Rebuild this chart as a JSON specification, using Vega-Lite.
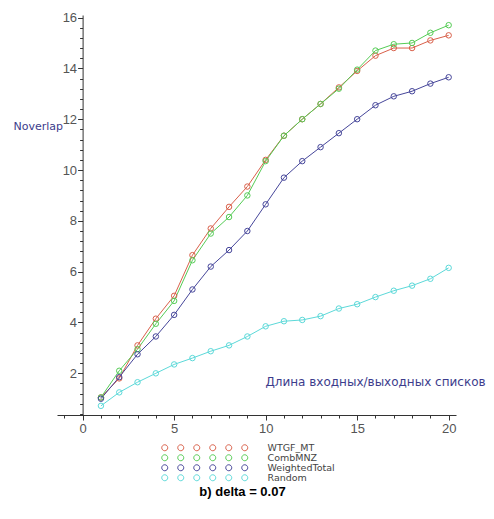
{
  "$schema": "https://vega.github.io/schema/vega-lite/v6.json",
  "width": 399,
  "height": 400,
  "autosize": {"type": "none"},
  "padding": {"left": 57, "top": 15, "right": 38, "bottom": 104},
  "background": "white",
  "config": {"view": {"stroke": null}, "font": "Liberation Sans"},
  "title": {"text": "b) delta = 0.07", "orient": "bottom", "anchor": "middle", "fontSize": 13, "fontWeight": "bold", "color": "#000000", "offset": 3, "dx": -14},
  "data": {"values": [
    {"n":1,"v":1.05,"m":"WTGF_MT"},{"n":2,"v":1.8,"m":"WTGF_MT"},{"n":3,"v":3.1,"m":"WTGF_MT"},{"n":4,"v":4.15,"m":"WTGF_MT"},{"n":5,"v":5.05,"m":"WTGF_MT"},
    {"n":6,"v":6.65,"m":"WTGF_MT"},{"n":7,"v":7.7,"m":"WTGF_MT"},{"n":8,"v":8.55,"m":"WTGF_MT"},{"n":9,"v":9.35,"m":"WTGF_MT"},{"n":10,"v":10.4,"m":"WTGF_MT"},
    {"n":11,"v":11.35,"m":"WTGF_MT"},{"n":12,"v":12.0,"m":"WTGF_MT"},{"n":13,"v":12.6,"m":"WTGF_MT"},{"n":14,"v":13.25,"m":"WTGF_MT"},{"n":15,"v":13.9,"m":"WTGF_MT"},
    {"n":16,"v":14.5,"m":"WTGF_MT"},{"n":17,"v":14.8,"m":"WTGF_MT"},{"n":18,"v":14.8,"m":"WTGF_MT"},{"n":19,"v":15.1,"m":"WTGF_MT"},{"n":20,"v":15.3,"m":"WTGF_MT"},
    {"n":1,"v":1.05,"m":"CombMNZ"},{"n":2,"v":2.1,"m":"CombMNZ"},{"n":3,"v":2.95,"m":"CombMNZ"},{"n":4,"v":3.95,"m":"CombMNZ"},{"n":5,"v":4.85,"m":"CombMNZ"},
    {"n":6,"v":6.45,"m":"CombMNZ"},{"n":7,"v":7.5,"m":"CombMNZ"},{"n":8,"v":8.15,"m":"CombMNZ"},{"n":9,"v":9.0,"m":"CombMNZ"},{"n":10,"v":10.35,"m":"CombMNZ"},
    {"n":11,"v":11.35,"m":"CombMNZ"},{"n":12,"v":12.0,"m":"CombMNZ"},{"n":13,"v":12.6,"m":"CombMNZ"},{"n":14,"v":13.2,"m":"CombMNZ"},{"n":15,"v":13.95,"m":"CombMNZ"},
    {"n":16,"v":14.7,"m":"CombMNZ"},{"n":17,"v":14.95,"m":"CombMNZ"},{"n":18,"v":15.0,"m":"CombMNZ"},{"n":19,"v":15.4,"m":"CombMNZ"},{"n":20,"v":15.7,"m":"CombMNZ"},
    {"n":1,"v":1.0,"m":"WeightedTotal"},{"n":2,"v":1.85,"m":"WeightedTotal"},{"n":3,"v":2.75,"m":"WeightedTotal"},{"n":4,"v":3.45,"m":"WeightedTotal"},{"n":5,"v":4.3,"m":"WeightedTotal"},
    {"n":6,"v":5.3,"m":"WeightedTotal"},{"n":7,"v":6.2,"m":"WeightedTotal"},{"n":8,"v":6.85,"m":"WeightedTotal"},{"n":9,"v":7.6,"m":"WeightedTotal"},{"n":10,"v":8.65,"m":"WeightedTotal"},
    {"n":11,"v":9.7,"m":"WeightedTotal"},{"n":12,"v":10.35,"m":"WeightedTotal"},{"n":13,"v":10.9,"m":"WeightedTotal"},{"n":14,"v":11.45,"m":"WeightedTotal"},{"n":15,"v":12.0,"m":"WeightedTotal"},
    {"n":16,"v":12.55,"m":"WeightedTotal"},{"n":17,"v":12.9,"m":"WeightedTotal"},{"n":18,"v":13.1,"m":"WeightedTotal"},{"n":19,"v":13.4,"m":"WeightedTotal"},{"n":20,"v":13.65,"m":"WeightedTotal"},
    {"n":1,"v":0.72,"m":"Random"},{"n":2,"v":1.25,"m":"Random"},{"n":3,"v":1.65,"m":"Random"},{"n":4,"v":2.0,"m":"Random"},{"n":5,"v":2.35,"m":"Random"},
    {"n":6,"v":2.6,"m":"Random"},{"n":7,"v":2.87,"m":"Random"},{"n":8,"v":3.1,"m":"Random"},{"n":9,"v":3.45,"m":"Random"},{"n":10,"v":3.85,"m":"Random"},
    {"n":11,"v":4.05,"m":"Random"},{"n":12,"v":4.1,"m":"Random"},{"n":13,"v":4.25,"m":"Random"},{"n":14,"v":4.55,"m":"Random"},{"n":15,"v":4.72,"m":"Random"},
    {"n":16,"v":5.0,"m":"Random"},{"n":17,"v":5.25,"m":"Random"},{"n":18,"v":5.45,"m":"Random"},{"n":19,"v":5.72,"m":"Random"},{"n":20,"v":6.15,"m":"Random"}
  ]},
  "encoding": {
    "x": {
      "field": "n", "type": "quantitative",
      "scale": {"domain": [-1.4, 20.4], "nice": false, "zero": false},
      "axis": {
        "values": [-1,0,1,2,3,4,5,6,7,8,9,10,11,12,13,14,15,16,17,18,19,20],
        "labelExpr": "datum.value % 5 === 0 ? format(datum.value, 'd') : ''",
        "grid": false,
        "domainColor": "#333333",
        "tickColor": "#333333",
        "tickSize": {"condition": {"test": "datum.value % 5 === 0", "value": 5}, "value": 3},
        "labelColor": "#555555",
        "labelFontSize": 13,
        "labelPadding": 2,
        "labelFlush": false,
        "labelOverlap": false,
        "title": "Длина входных/выходных списков",
        "titleColor": "#3c3c8c",
        "titleFont": "DejaVu Sans",
        "titleFontSize": 12,
        "titleFontWeight": "normal",
        "titleX": 318,
        "titleY": -34,
        "titleAlign": "center",
        "titleBaseline": "middle"
      }
    },
    "y": {
      "field": "v", "type": "quantitative",
      "scale": {"domain": [0.36, 16.1], "nice": false, "zero": false},
      "axis": {
        "values": [0.4,0.8,1.2,1.6,2,2.4,2.8,3.2,3.6,4,4.4,4.8,5.2,5.6,6,6.4,6.8,7.2,7.6,8,8.4,8.8,9.2,9.6,10,10.4,10.8,11.2,11.6,12,12.4,12.8,13.2,13.6,14,14.4,14.8,15.2,15.6,16],
        "labelExpr": "datum.value % 2 === 0 ? format(datum.value, 'd') : ''",
        "offset": -25.6,
        "grid": false,
        "domainColor": "#333333",
        "tickColor": "#333333",
        "tickSize": {"condition": {"test": "datum.value % 2 === 0", "value": 5}, "value": 3},
        "labelColor": "#555555",
        "labelFontSize": 13,
        "labelPadding": 1,
        "labelOverlap": false,
        "labelFlush": false,
        "title": "Noverlap",
        "titleColor": "#3c3c8c",
        "titleFont": "DejaVu Sans",
        "titleFontSize": 11,
        "titleFontWeight": "normal",
        "titleAngle": 0,
        "titleAlign": "right",
        "titleBaseline": "middle",
        "titleX": -20,
        "titleY": 111
      }
    },
    "color": {
      "field": "m", "type": "nominal",
      "scale": {"domain": ["WTGF_MT","CombMNZ","WeightedTotal","Random"], "range": ["#d9604a","#55cc55","#46469a","#5cd9d9"]},
      "legend": {
        "title": null,
        "orient": "none",
        "legendX": 183,
        "legendY": 428,
        "padding": 0,
        "symbolType": "M-1,0A1,1,0,1,0,1,0A1,1,0,1,0,-1,0Z M-6.333,0A1,1,0,1,0,-4.333,0A1,1,0,1,0,-6.333,0Z M-11.667,0A1,1,0,1,0,-9.667,0A1,1,0,1,0,-11.667,0Z M-17,0A1,1,0,1,0,-15,0A1,1,0,1,0,-17,0Z M-22.333,0A1,1,0,1,0,-20.333,0A1,1,0,1,0,-22.333,0Z M-27.667,0A1,1,0,1,0,-25.667,0A1,1,0,1,0,-27.667,0Z",
        "symbolSize": 36,
        "symbolStrokeWidth": 1,
        "symbolFillColor": "transparent",
        "labelFont": "DejaVu Sans",
        "labelFontSize": 9.5,
        "labelColor": "#444444",
        "labelOffset": 18,
        "rowPadding": -6
      }
    }
  },
  "layer": [
    {"mark": {"type": "line", "strokeWidth": 1}},
    {"mark": {"type": "point", "filled": false, "size": 30, "strokeWidth": 1, "opacity": 1}}
  ]
}
